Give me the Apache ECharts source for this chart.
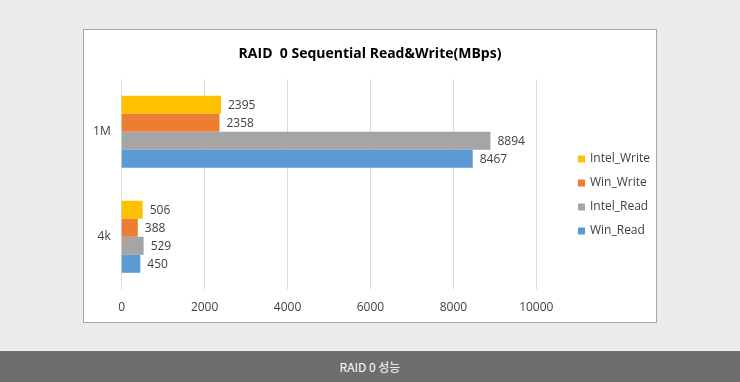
<!DOCTYPE html>
<html><head><meta charset="utf-8">
<script src="https://cdn.jsdelivr.net/npm/echarts@6/dist/echarts.min.js"></script>
<style>
html,body{margin:0;padding:0;background:#ebebeb;width:740px;height:382px;overflow:hidden;}
#box{position:absolute;left:83px;top:29px;width:572px;height:292px;background:#fff;border:1px solid #a6a6a6;}
#bar{position:absolute;left:0;top:351px;width:740px;height:31px;background:#6e6e6e;color:#fff;font-family:"Noto Sans CJK KR","Noto Sans",sans-serif;font-size:12px;line-height:31px;text-align:center;}
#chart{position:absolute;left:0;top:0;width:740px;height:382px;}
</style></head>
<body>
<div id="box"></div>
<div id="bar">RAID 0 성능</div>
<div id="chart"></div>
<script>
const categories = ['4k', '1M'];
const seriesNames = ['Intel_Write', 'Win_Write', 'Intel_Read', 'Win_Read'];
const intelWrite = [506, 2395];
const winWrite = [388, 2358];
const intelRead = [529, 8894];
const winRead = [450, 8467];
const xTicks = [0, 2000, 4000, 6000, 8000, 10000];
const colors = ['#FFC000', '#ED7D31', '#A5A5A5', '#5B9BD5'];

const values = [intelWrite, winWrite, intelRead, winRead];
const font = '"Open Sans","Noto Sans",sans-serif';
const chart = echarts.init(document.getElementById('chart'));
chart.setOption({
  animation: false,
  backgroundColor: 'transparent',
  title: {
    text: 'RAID  0 Sequential Read&Write(MBps)',
    left: 'center', top: 42,
    textStyle: {fontFamily: font, fontSize: 14, fontWeight: 'bold', color: '#000'}
  },
  legend: {
    orient: 'vertical', left: 573, top: 148,
    itemWidth: 7, itemHeight: 7, itemGap: 12,
    icon: 'rect',
    data: seriesNames,
    textStyle: {fontFamily: font, fontSize: 12, color: '#404040'}
  },
  grid: {left: 121.7, right: 203.7, top: 79.3, bottom: 92.7},
  xAxis: {
    type: 'value', min: xTicks[0], max: xTicks[xTicks.length - 1], interval: 2000,
    axisLine: {show: false}, axisTick: {show: false},
    splitLine: {lineStyle: {color: '#d9d9d9', width: 1}},
    axisLabel: {fontFamily: font, fontSize: 12, color: '#404040', margin: 12, formatter: v => String(v)}
  },
  yAxis: {
    type: 'category', data: categories,
    axisLine: {show: false}, axisTick: {show: false},
    axisLabel: {fontFamily: font, fontSize: 12, color: '#404040', margin: 11}
  },
  series: seriesNames.map((n, i) => ({
    name: n, type: 'bar', data: values[i], barWidth: 18, barGap: '0%',
    itemStyle: {color: colors[i]},
    label: {show: true, position: 'right', distance: 7, offset: [0, 1], fontFamily: font, fontSize: 12, color: '#404040'}
  }))
});
</script>
</body></html>
